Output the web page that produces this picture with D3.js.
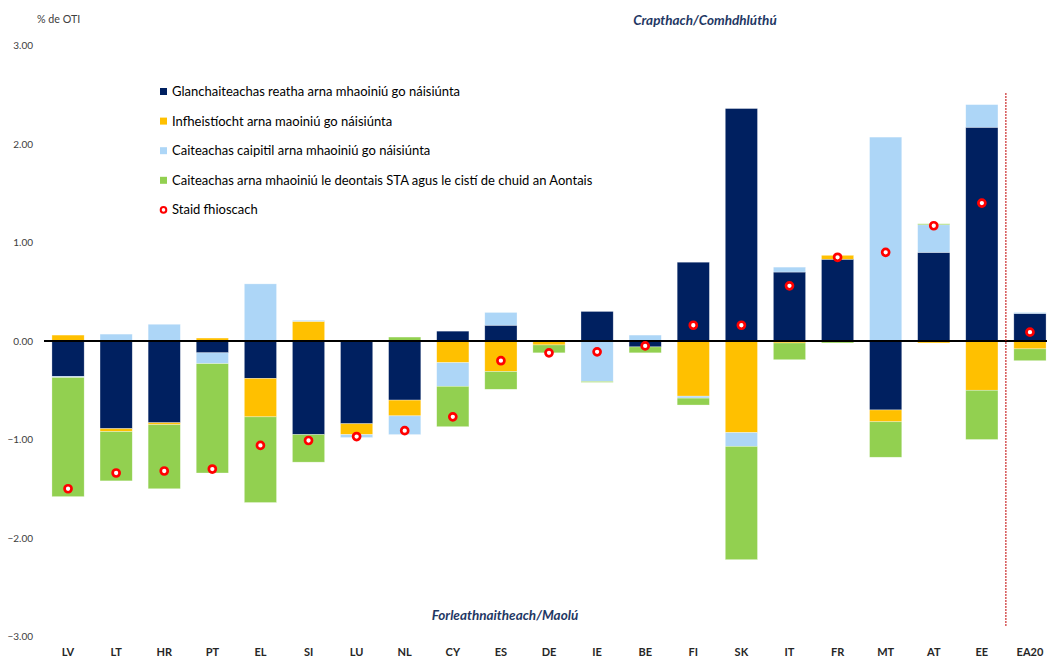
<!DOCTYPE html>
<html>
<head>
<meta charset="utf-8">
<script src="https://cdn.jsdelivr.net/npm/d3@7"></script>
<style>
  body { margin: 0; background: #fff; }
  svg { display: block; font-family: Lato, "Open Sans", sans-serif; }
</style>
</head>
<body>
<svg id="drawing_region"></svg>
<script>
// categories and series (% of GDP)
const categories = ["LV","LT","HR","PT","EL","SI","LU","NL","CY","ES","DE","IE","BE","FI","SK","IT","FR","MT","AT","EE","EA20"];
const currentSpend = [-0.36,-0.89,-0.83,-0.12,-0.38,-0.95,-0.84,-0.60,0.10,0.16,0.00,0.30,-0.06,0.80,2.36,0.70,0.83,-0.70,0.90,2.17,0.28];
const investment   = [0.06,-0.03,-0.02,0.03,-0.39,0.20,-0.11,-0.16,-0.22,-0.31,-0.04,0.00,0.00,-0.56,-0.93,-0.02,0.04,-0.12,-0.02,-0.50,-0.08];
const capitalSpend = [-0.01,0.07,0.17,-0.11,0.58,0.01,-0.03,-0.19,-0.24,0.13,0.00,-0.41,0.06,-0.02,-0.14,0.05,0.00,2.07,0.28,0.23,0.01];
const euFunded     = [-1.21,-0.50,-0.65,-1.11,-0.87,-0.28,0.00,0.04,-0.41,-0.18,-0.08,-0.01,-0.06,-0.07,-1.15,-0.17,-0.02,-0.36,0.01,-0.50,-0.12];
const fiscalStance = [-1.50,-1.34,-1.32,-1.30,-1.06,-1.01,-0.97,-0.91,-0.77,-0.20,-0.12,-0.11,-0.05,0.16,0.16,0.56,0.85,0.90,1.17,1.40,0.09];
const yTicks = [3,2,1,0,-1,-2,-3];

const seriesNames = [
  "Glanchaiteachas reatha arna mhaoiniú go náisiúnta",
  "Infheistíocht arna maoiniú go náisiúnta",
  "Caiteachas caipitil arna mhaoiniú go náisiúnta",
  "Caiteachas arna mhaoiniú le deontais STA agus le cistí de chuid an Aontais"
];
const dotName = "Staid fhioscach";
const colors = ["#002060", "#FFC000", "#ADD6F7", "#92D050"];

const width = 1047, height = 659;
const svg = d3.select("#drawing_region").attr("width", width).attr("height", height);

const keys = ["cur", "inv", "cap", "eu"];
const table = categories.map((c, i) => ({
  cat: c, cur: currentSpend[i], inv: investment[i], cap: capitalSpend[i], eu: euFunded[i], fs: fiscalStance[i]
}));

const xscale = d3.scaleBand().domain(categories).range([44, 1054])
  .paddingInner(0.33).paddingOuter(0.165);
const yscale = d3.scaleLinear().domain([-3, 3]).range([636.5, 45.5]);

const stack = d3.stack().keys(keys).offset(d3.stackOffsetDiverging);
const layers = stack(table);

// bars
svg.append("g").selectAll("g").data(layers).join("g")
  .attr("fill", (d, i) => colors[i])
  .selectAll("rect").data(d => d).join("rect")
  .attr("x", d => xscale(d.data.cat))
  .attr("width", xscale.bandwidth())
  .attr("y", d => yscale(Math.max(d[0], d[1])))
  .attr("height", d => Math.abs(yscale(d[0]) - yscale(d[1])))
  .attr("stroke", "#ffffff")
  .attr("stroke-opacity", 0.5)
  .attr("stroke-width", 0.6);

// zero line
svg.append("line")
  .attr("x1", 44).attr("x2", width)
  .attr("y1", yscale(0)).attr("y2", yscale(0))
  .attr("stroke", "#000").attr("stroke-width", 2);

// separator before EA20
const sepX = xscale("EE") + xscale.bandwidth() + (xscale.step() - xscale.bandwidth()) / 2;
svg.append("line")
  .attr("x1", sepX).attr("x2", sepX)
  .attr("y1", 93).attr("y2", 627)
  .attr("stroke", "#C00000").attr("stroke-width", 1)
  .attr("stroke-dasharray", "2,1");

// fiscal stance dots
svg.append("g").selectAll("circle").data(table).join("circle")
  .attr("cx", d => xscale(d.cat) + xscale.bandwidth() / 2)
  .attr("cy", d => yscale(d.fs))
  .attr("r", 3.5)
  .attr("fill", "#fff")
  .attr("stroke", "#FF0000")
  .attr("stroke-width", 2.7);

// y axis labels (no axis line)
const yaxis = d3.axisLeft(yscale).tickValues(yTicks).tickFormat(d3.format(".2f")).tickSize(0).tickPadding(0);
const yg = svg.append("g").attr("transform", "translate(33,0)").call(yaxis);
yg.select(".domain").remove();
yg.selectAll("text").attr("font-size", 10).attr("fill", "#404040").attr("font-family", "Lato, sans-serif");

svg.append("text").attr("x", 37).attr("y", 23)
  .attr("font-size", 10.7).attr("fill", "#404040").text("% de OTI");

// category labels
const xaxis = d3.axisBottom(xscale).tickSize(0).tickPadding(0);
const xg = svg.append("g").attr("transform", "translate(0,648)").call(xaxis);
xg.select(".domain").remove();
xg.selectAll("text").attr("font-size", 11).attr("font-weight", "bold")
  .attr("fill", "#262626").attr("font-family", "Lato, sans-serif");

// annotations
svg.append("text").attr("x", 705).attr("y", 25).attr("text-anchor", "middle")
  .attr("font-size", 13.5).attr("font-weight", "bold").attr("font-style", "italic")
  .attr("fill", "#1F3864").text("Crapthach/Comhdhlúthú");
svg.append("text").attr("x", 505).attr("y", 620).attr("text-anchor", "middle")
  .attr("font-size", 13.5).attr("font-weight", "bold").attr("font-style", "italic")
  .attr("fill", "#1F3864").text("Forleathnaitheach/Maolú");

// legend
const legend = svg.append("g").attr("transform", "translate(160,91.5)");
seriesNames.forEach((name, i) => {
  const row = legend.append("g").attr("transform", `translate(0,${i * 29.6})`);
  row.append("rect").attr("x", 0).attr("y", -3.5).attr("width", 7).attr("height", 7).attr("fill", colors[i]);
  row.append("text").attr("x", 12).attr("y", 4.5).attr("font-size", 13).attr("fill", "#000").text(name);
});
const dotRow = legend.append("g").attr("transform", `translate(0,${4 * 29.6})`);
dotRow.append("circle").attr("cx", 3.5).attr("cy", 0).attr("r", 2.8)
  .attr("fill", "#fff").attr("stroke", "#FF0000").attr("stroke-width", 2);
dotRow.append("text").attr("x", 12).attr("y", 4.5).attr("font-size", 13).attr("fill", "#000").text(dotName);
</script>
</body>
</html>
